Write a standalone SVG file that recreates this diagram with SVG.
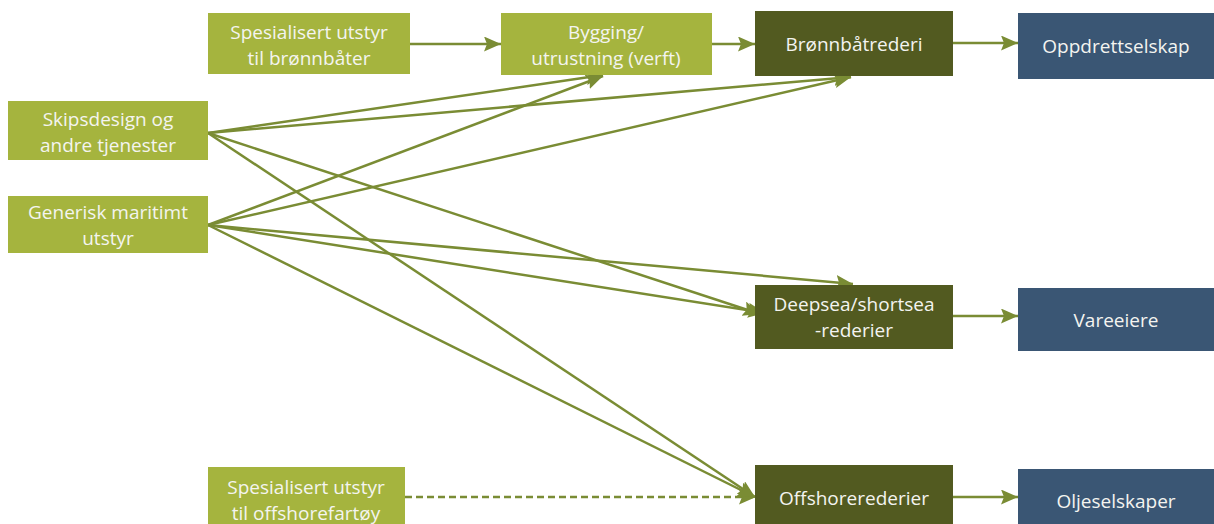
<svg xmlns="http://www.w3.org/2000/svg" width="1214" height="524" viewBox="0 0 1214 524">
<style>
.lt{fill:#A5B43E}
.dk{fill:#525A20}
.bl{fill:#3A5674}
text{font-family:"Open Sans","Liberation Sans",sans-serif;font-size:19px;fill:#F4F4F0;text-anchor:middle}
.c{stroke:#7A8C34;stroke-width:2.5;fill:none;marker-end:url(#ah)}
.d{stroke-dasharray:7,4}
</style>
<defs>
<marker id="ah" markerUnits="userSpaceOnUse" markerWidth="20" markerHeight="16" refX="17" refY="7.5" orient="auto">
<path d="M0,0 L17,7.5 L0,15 L3,7.5 Z" fill="#7A8C34"/>
</marker>
</defs>
<g id="connectors">
<line class="c" x1="410" y1="44" x2="501" y2="44"/>
<line class="c" x1="712" y1="44" x2="755" y2="44"/>
<line class="c" x1="953" y1="43" x2="1018" y2="43"/>
<line class="c" x1="953" y1="316" x2="1018" y2="316"/>
<line class="c" x1="953" y1="497" x2="1018" y2="497"/>
<line class="c d" x1="405" y1="497" x2="756" y2="497"/>
<line class="c" x1="208" y1="133" x2="603" y2="75"/>
<line class="c" x1="208" y1="133" x2="851" y2="77"/>
<line class="c" x1="208" y1="133" x2="760" y2="314"/>
<line class="c" x1="208" y1="133" x2="755" y2="497"/>
<line class="c" x1="208" y1="225" x2="603" y2="76"/>
<line class="c" x1="208" y1="225" x2="851" y2="77"/>
<line class="c" x1="208" y1="225" x2="853" y2="284"/>
<line class="c" x1="208" y1="225" x2="765" y2="313"/>
<line class="c" x1="208" y1="225" x2="755" y2="497"/>
</g>
<g id="spes-bronnbaater"><rect class="lt" x="208" y="13" width="202" height="61"/><text x="309" y="39">Spesialisert utstyr</text><text x="309" y="65">til brønnbåter</text></g>
<g id="bygging"><rect class="lt" x="501" y="13" width="211" height="62"/><text x="606" y="39">Bygging/</text><text x="606" y="65">utrustning (verft)</text></g>
<g id="bronnbaatrederi"><rect class="dk" x="755" y="11" width="198" height="65"/><text x="854" y="51">Brønnbåtrederi</text></g>
<g id="oppdrettselskap"><rect class="bl" x="1018" y="13" width="196" height="66"/><text x="1116" y="53">Oppdrettselskap</text></g>
<g id="skipsdesign"><rect class="lt" x="8" y="101" width="200" height="59"/><text x="108" y="126">Skipsdesign og</text><text x="108" y="152">andre tjenester</text></g>
<g id="generisk"><rect class="lt" x="8" y="196" width="200" height="57"/><text x="108" y="219">Generisk maritimt</text><text x="108" y="245">utstyr</text></g>
<g id="deepsea"><rect class="dk" x="755" y="285" width="198" height="64"/><text x="854" y="311">Deepsea/shortsea</text><text x="854" y="337">-rederier</text></g>
<g id="vareeiere"><rect class="bl" x="1018" y="288" width="196" height="63"/><text x="1116" y="327">Vareeiere</text></g>
<g id="spes-offshore"><rect class="lt" x="208" y="467" width="197" height="57"/><text x="306" y="494">Spesialisert utstyr</text><text x="306" y="520">til offshorefartøy</text></g>
<g id="offshorerederier"><rect class="dk" x="755" y="465" width="198" height="59"/><text x="854" y="505">Offshorerederier</text></g>
<g id="oljeselskaper"><rect class="bl" x="1018" y="469" width="196" height="55"/><text x="1116" y="508">Oljeselskaper</text></g>
</svg>
